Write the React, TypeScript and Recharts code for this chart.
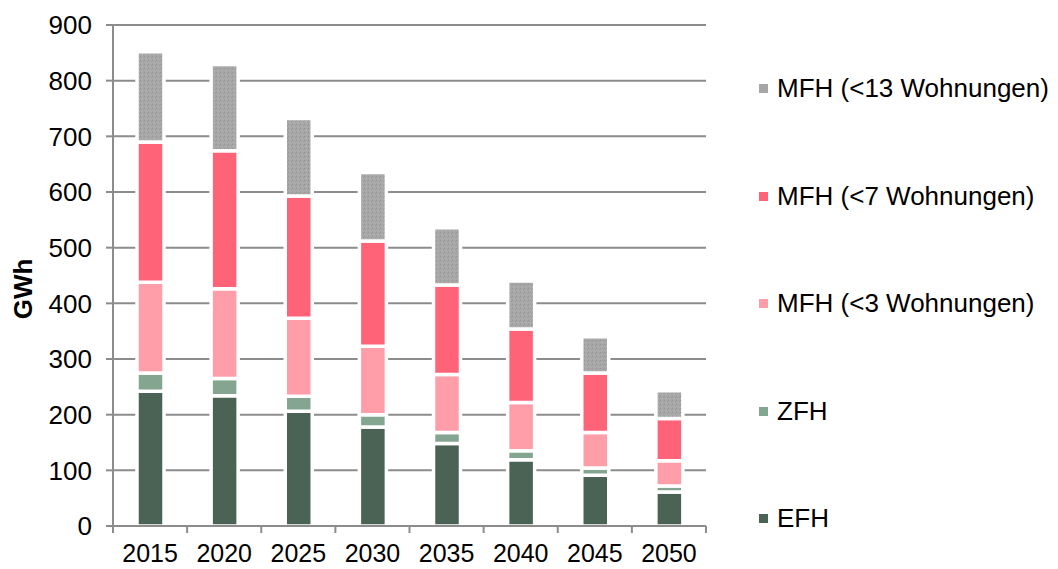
import React from 'react';
import { BarChart, Bar, XAxis, YAxis, CartesianGrid } from 'recharts';

const years = ['2015', '2020', '2025', '2030', '2035', '2040', '2045', '2050'];
const efh = [242, 234, 206, 178, 148, 119, 91, 61];
const zfh = [33, 31, 27, 22, 20, 16, 13, 11];
const mfh3 = [163, 161, 140, 123, 104, 87, 64, 45];
const mfh7 = [252, 248, 220, 189, 161, 132, 107, 76];
const mfh13 = [162, 155, 139, 123, 103, 86, 65, 50];
const yTicks = [0, 100, 200, 300, 400, 500, 600, 700, 800, 900];

const series = [
  { key: 'efh', name: 'EFH', color: '#4a6354', values: efh },
  { key: 'zfh', name: 'ZFH', color: '#84a590', values: zfh },
  { key: 'mfh3', name: 'MFH (<3 Wohnungen)', color: '#ff9ea8', values: mfh3 },
  { key: 'mfh7', name: 'MFH (<7 Wohnungen)', color: '#ff6378', values: mfh7 },
  { key: 'mfh13', name: 'MFH (<13 Wohnungen)', color: '#a6a6a6', values: mfh13 },
];

const data = years.map((year, i) => {
  const row: Record<string, string | number> = { year };
  series.forEach((s) => {
    row[s.key] = s.values[i];
  });
  return row;
});

const W = 1058;
const H = 569;
const LEFT = 113;
const RIGHT = 352;
const AXIS_COLOR = '#8c8c8c';
const FONT = '"Liberation Sans", Arial, sans-serif';
const FS = 26;
const band = (W - LEFT - RIGHT) / years.length;

// dotted texture used by the grey series
const fillFor = (key: string, color: string) => (key === 'mfh13' ? 'url(#greyDots)' : color);

const XTick = (props: any) => {
  const { x, y, payload, index } = props;
  const axisY = y - 16;
  return (
    <g>
      <line x1={x - band / 2} x2={x - band / 2} y1={axisY} y2={axisY + 7} stroke={AXIS_COLOR} strokeWidth={2} />
      {index === years.length - 1 && (
        <line x1={x + band / 2} x2={x + band / 2} y1={axisY} y2={axisY + 7} stroke={AXIS_COLOR} strokeWidth={2} />
      )}
      <text x={x} y={y + 20} textAnchor="middle" fill="#000" fontSize={25} fontFamily={FONT}>
        {payload.value}
      </text>
    </g>
  );
};

const GwhLabel = () => (
  <text
    x={23}
    y={289}
    transform="rotate(-90 23 289)"
    textAnchor="middle"
    dominantBaseline="central"
    fontSize={FS}
    fontWeight="bold"
    fontFamily={FONT}
    fill="#000"
  >
    GWh
  </text>
);

export default function App() {
  return (
    <div style={{ position: 'absolute', left: 0, top: 0, width: W, height: H, background: '#fff' }}>
      <BarChart width={W} height={H} data={data} margin={{ top: 25, right: RIGHT, bottom: 13, left: 0 }} barSize={27}>
        <defs>
          <pattern id="greyDots" width="4" height="4" patternUnits="userSpaceOnUse">
            <rect width="4" height="4" fill="#a8a8a8" />
            <rect x="0" y="0" width="1" height="1" fill="#939393" />
            <rect x="2" y="2" width="1" height="1" fill="#b6b6b6" />
            <rect x="3" y="1" width="1" height="1" fill="#9a9a9a" />
          </pattern>
        </defs>
        <CartesianGrid vertical={false} stroke={AXIS_COLOR} strokeWidth={2} />
        <XAxis
          dataKey="year"
          height={30}
          tick={<XTick />}
          tickLine={false}
          tickSize={6}
          tickMargin={10}
          axisLine={{ stroke: AXIS_COLOR, strokeWidth: 2 }}
          interval={0}
        />
        <YAxis
          width={LEFT}
          domain={[0, 900]}
          ticks={yTicks}
          interval={0}
          tickSize={7}
          tickMargin={14}
          tick={{ fill: '#000', fontSize: FS, fontFamily: FONT }}
          tickLine={{ stroke: AXIS_COLOR, strokeWidth: 2 }}
          axisLine={{ stroke: AXIS_COLOR, strokeWidth: 2 }}
          label={<GwhLabel />}
        />
        {series.map((s) => (
          <Bar
            key={s.key}
            dataKey={s.key}
            name={s.name}
            stackId="a"
            fill={fillFor(s.key, s.color)}
            stroke="#fff"
            strokeWidth={3.5}
            isAnimationActive={false}
          />
        ))}
      </BarChart>
      <div style={{ position: 'absolute', left: 759, top: 35, fontFamily: FONT, fontSize: FS, color: '#000' }}>
        {[...series].reverse().map((s) => (
          <div key={s.key} style={{ height: 107.5, display: 'flex', alignItems: 'center' }}>
            <span style={{ width: 9, height: 9, background: s.color, display: 'inline-block', marginRight: 9 }} />
            <span style={{ whiteSpace: 'nowrap' }}>{s.name}</span>
          </div>
        ))}
      </div>
    </div>
  );
}
